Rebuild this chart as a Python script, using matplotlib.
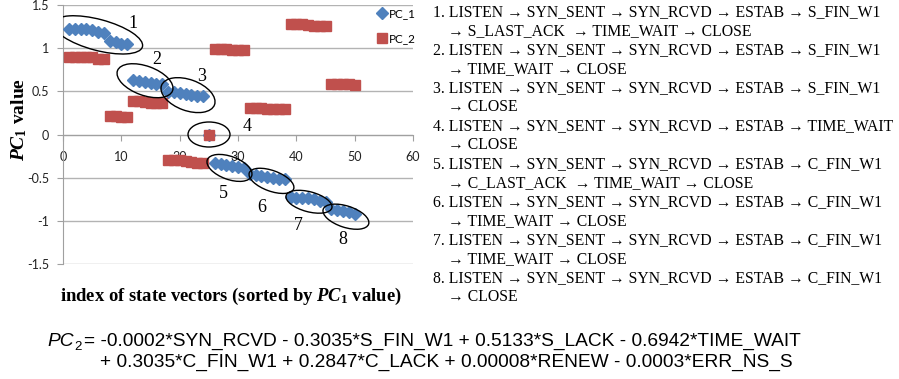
import matplotlib
matplotlib.use("Agg")
import matplotlib.pyplot as plt
from matplotlib.patches import Ellipse
from matplotlib.transforms import ScaledTranslation

W, H = 899, 379

# data
idx = list(range(1, 51))
pc_1 = [1.22, 1.22, 1.22, 1.22, 1.21, 1.19, 1.18, 1.08, 1.07, 1.05, 1.05,
        0.63, 0.62, 0.61, 0.60, 0.59, 0.58,
        0.49, 0.49, 0.48, 0.47, 0.46, 0.45, 0.45,
        0.00,
        -0.33, -0.34, -0.35, -0.36, -0.38, -0.39,
        -0.46, -0.47, -0.48, -0.49, -0.50, -0.51, -0.52,
        -0.72, -0.73, -0.73, -0.74, -0.75, -0.77, -0.78,
        -0.86, -0.87, -0.89, -0.90, -0.92]
pc_2 = [0.90, 0.90, 0.90, 0.90, 0.90, 0.88, 0.88,
        0.22, 0.21, 0.20, 0.20,
        0.39, 0.39, 0.38, 0.37, 0.36, 0.36,
        -0.30, -0.30, -0.30, -0.31, -0.32, -0.33, -0.33,
        0.00,
        0.99, 0.99, 0.99, 0.98, 0.98, 0.98,
        0.31, 0.31, 0.31, 0.30, 0.29, 0.29, 0.29,
        1.28, 1.28, 1.28, 1.27, 1.26, 1.26, 1.26,
        0.59, 0.59, 0.58, 0.58, 0.57]
xticks = [0, 10, 20, 30, 40, 50, 60]
yticks = [-1.5, -1, -0.5, 0, 0.5, 1, 1.5]
ytick_labels = ["-1.5", "-1", "-0.5", "0", "0.5", "1", "1.5"]

# cluster ellipses: center (data), semi axes (px), angle (deg), label position (data)
clusters = [
    ("1", (6.0, 1.154), 46.0, 15.5, -15, (12.0, 1.29)),
    ("2", (14.06, 0.623), 29.3, 14.6, -20, (16.1, 0.865)),
    ("3", (21.43, 0.456), 28.2, 15.5, -20, (23.8, 0.67)),
    ("4", (25.03, 0.0), 21.0, 12.5, 0, (31.5, 0.09)),
    ("5", (28.54, -0.387), 23.6, 11.5, -20, (27.5, -0.68)),
    ("6", (35.74, -0.537), 23.6, 10.3, -20, (34.1, -0.85)),
    ("7", (42.17, -0.779), 23.7, 10.0, -15, (40.3, -1.05)),
    ("8", (48.5, -0.952), 23.9, 10.7, -18, (48.0, -1.22)),
]

paths = [
    ("1. LISTEN → SYN_SENT → SYN_RCVD → ESTAB → S_FIN_W1", "→ S_LAST_ACK  → TIME_WAIT → CLOSE"),
    ("2. LISTEN → SYN_SENT → SYN_RCVD → ESTAB → S_FIN_W1", "→ TIME_WAIT → CLOSE"),
    ("3. LISTEN → SYN_SENT → SYN_RCVD → ESTAB → S_FIN_W1", "→ CLOSE"),
    ("4. LISTEN → SYN_SENT → SYN_RCVD → ESTAB → TIME_WAIT", "→ CLOSE"),
    ("5. LISTEN → SYN_SENT → SYN_RCVD → ESTAB → C_FIN_W1", "→ C_LAST_ACK  → TIME_WAIT → CLOSE"),
    ("6. LISTEN → SYN_SENT → SYN_RCVD → ESTAB → C_FIN_W1", "→ TIME_WAIT → CLOSE"),
    ("7. LISTEN → SYN_SENT → SYN_RCVD → ESTAB → C_FIN_W1", "→ TIME_WAIT → CLOSE"),
    ("8. LISTEN → SYN_SENT → SYN_RCVD → ESTAB → C_FIN_W1", "→ CLOSE"),
]

eq_line1 = "= -0.0002*SYN_RCVD - 0.3035*S_FIN_W1 + 0.5133*S_LACK - 0.6942*TIME_WAIT"
eq_line2 = "+ 0.3035*C_FIN_W1 + 0.2847*C_LACK + 0.00008*RENEW - 0.0003*ERR_NS_S"

plt.rcParams["mathtext.fontset"] = "custom"
plt.rcParams["mathtext.rm"] = "Liberation Serif:bold"
plt.rcParams["mathtext.it"] = "Liberation Serif:italic:bold"
plt.rcParams["mathtext.bf"] = "Liberation Serif:bold"

serif = ["Liberation Serif", "DejaVu Serif"]
sans = ["Lato", "DejaVu Sans"]
eqfont = ["Liberation Sans Narrow", "Liberation Sans", "DejaVu Sans"]


def fx(x):
    return x / W


def fy(y):
    return 1 - y / H


fig = plt.figure(figsize=(W / 100, H / 100), dpi=100)
ax = fig.add_axes([fx(63), fy(264), 350 / W, 259 / H])

ax.plot(idx, pc_1, ls="none", marker="D", ms=6.4, color="#4F81BD", label="PC_1", zorder=3)
ax.plot(idx, pc_2, ls="none", marker="s", ms=7.2, color="#C0504D", label="PC_2", zorder=4)

ax.set_xlim(0, 60)
ax.set_ylim(-1.5, 1.5)
ax.set_xticks(xticks)
ax.set_yticks(yticks)
ax.set_yticklabels(ytick_labels)
ax.yaxis.grid(True, color="#B3B3B3", lw=1)
ax.set_axisbelow(True)
for s in ["top", "right"]:
    ax.spines[s].set_visible(False)
ax.spines["bottom"].set_position(("data", 0))
ax.spines["bottom"].set_color("#A0A0A0")
ax.spines["left"].set_color("#A0A0A0")
ax.tick_params(axis="both", colors="#A0A0A0", length=4, labelcolor="#222222")
ax.tick_params(axis="x", pad=8)
ax.tick_params(axis="y", pad=6)
for lab in ax.get_xticklabels() + ax.get_yticklabels():
    lab.set_fontfamily(sans)
    lab.set_fontsize(9)

for name, c, a, b, ang, lpos in clusters:
    tr = fig.dpi_scale_trans + ScaledTranslation(c[0], c[1], ax.transData)
    e = Ellipse((0, 0), 2 * a / 100, 2 * b / 100, angle=ang, transform=tr,
                fill=False, ec="black", lw=1.0, zorder=5)
    ax.add_patch(e)
    ax.text(lpos[0], lpos[1], name, fontsize=13, family=serif, ha="center", va="center", zorder=6)

leg = ax.legend(loc="upper left", bbox_to_anchor=(fx(370), fy(2)), bbox_transform=fig.transFigure,
                frameon=False, prop={"family": sans, "size": 8.5}, handletextpad=0.1,
                handlelength=1.0, labelspacing=1.2, borderpad=0)

fig.text(fx(19), fy(120), r"$PC_1$ value", rotation=90, fontsize=14, family=serif,
         fontweight="bold", ha="center", va="center")
fig.text(fx(231), fy(296), r"index of state vectors (sorted by $PC_1$ value)", fontsize=13.4,
         family=serif, fontweight="bold", ha="center", va="center")

y0, dy = 12, 19.0
for i, (l1, l2) in enumerate(paths):
    fig.text(fx(433), fy(y0 + 2 * i * dy), l1, fontsize=11.3, family=serif, ha="left", va="center")
    fig.text(fx(448), fy(y0 + (2 * i + 1) * dy), l2, fontsize=11.3, family=serif, ha="left", va="center")

# PC_2 equation below
fig.text(fx(74), fy(341), "PC", fontsize=13.8, family=eqfont, style="italic", ha="right", va="center")
fig.text(fx(74), fy(347), "2", fontsize=9.5, family=eqfont, ha="left", va="center")
fig.text(fx(84), fy(341), eq_line1, fontsize=13.8, family=eqfont, ha="left", va="center")
fig.text(fx(100), fy(362), eq_line2, fontsize=13.8, family=eqfont, ha="left", va="center")

fig.savefig("out.png", dpi=100)
